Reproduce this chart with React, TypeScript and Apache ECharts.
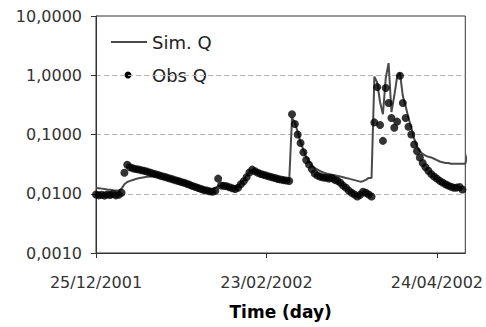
import React, { useEffect, useRef } from "react";
import * as echarts from "echarts";

// Day 0 = 25/12/2001, one value per day
const START_UTC = Date.UTC(2001, 11, 25);
const X_TICKS = [0, 60, 120];
const X_MIN = 0;
const X_MAX = 130;
const Y_MIN = 0.001;
const Y_MAX = 10;
const SERIES_NAMES = ["Sim. Q", "Obs Q"];
const X_TITLE = "Time (day)";

const SIM_Q = [
  0.0125, 0.0124, 0.0122, 0.012, 0.0118, 0.0117, 0.0115, 0.0114, 0.0113, 0.0122,
  0.0145, 0.0158, 0.0165, 0.0171, 0.0177, 0.0182, 0.0186, 0.019, 0.0194, 0.0196,
  0.0198, 0.0197, 0.0195, 0.0192, 0.0188, 0.0184, 0.018, 0.0176, 0.0172, 0.0167,
  0.0162, 0.0157, 0.0152, 0.0147, 0.0142, 0.0137, 0.0133, 0.0129, 0.0125, 0.0122,
  0.012, 0.0118, 0.0125, 0.0135, 0.0136, 0.0134, 0.0132, 0.013, 0.0128, 0.0127,
  0.0135, 0.015, 0.017, 0.02, 0.023, 0.025, 0.0245, 0.0232, 0.022, 0.021,
  0.0203, 0.0197, 0.0192, 0.0187, 0.0182, 0.0178, 0.0174, 0.0168, 0.016, 0.19,
  0.16, 0.11, 0.075, 0.055, 0.042, 0.035, 0.03, 0.027, 0.0255, 0.024,
  0.023, 0.022, 0.0215, 0.0208, 0.0205, 0.02, 0.0195, 0.019, 0.0185, 0.018,
  0.0175, 0.017, 0.0165, 0.016, 0.0163, 0.0172, 0.0185, 0.0185, 0.95, 0.75,
  0.35, 0.22, 0.9, 1.6, 0.24, 0.45, 0.95, 1.1, 0.45, 0.3,
  0.19, 0.13, 0.085, 0.063, 0.052, 0.047, 0.044, 0.042, 0.041, 0.039,
  0.037, 0.035, 0.034, 0.033, 0.033, 0.032, 0.032, 0.032, 0.032, 0.032,
  0.032, 0.049,
];

const OBS_Q = [
  0.0097, 0.0094, 0.0096, 0.0093, 0.0097, 0.0095, 0.0099, 0.0094, 0.0096, 0.0104,
  0.0226, 0.0308, 0.028, 0.0268, 0.0262, 0.0256, 0.025, 0.0243, 0.0236, 0.0228,
  0.022, 0.0213, 0.0206, 0.0199, 0.0193, 0.0187, 0.0181, 0.0175, 0.0169, 0.0164,
  0.0158, 0.0153, 0.0147, 0.0141, 0.0135, 0.013, 0.0125, 0.012, 0.0116, 0.0113,
  0.011, 0.0108, 0.0112, 0.018, 0.0138, 0.0136, 0.0134, 0.0129, 0.0124, 0.012,
  0.0126, 0.0145, 0.0162, 0.019, 0.0228, 0.0255, 0.024, 0.0226, 0.0216, 0.0208,
  0.0202, 0.0196, 0.019, 0.0184, 0.0178, 0.0174, 0.017, 0.0167, 0.0164, 0.22,
  0.15, 0.1, 0.072, 0.05, 0.037, 0.031, 0.0258, 0.022, 0.0202, 0.0194,
  0.0188, 0.0186, 0.018, 0.0186, 0.0172, 0.0166, 0.0153, 0.0137, 0.0126, 0.0113,
  0.0104, 0.0097, 0.009, 0.0096, 0.0108, 0.0104, 0.0097, 0.009, 0.16, 0.63,
  0.145, 0.078, 0.61, 0.34, 0.19, 0.13, 0.165, 0.98, 0.34, 0.19,
  0.135, 0.1, 0.068, 0.052, 0.041, 0.033, 0.028, 0.0245, 0.0215, 0.0195,
  0.018, 0.0165, 0.0155, 0.0145, 0.0137, 0.0131, 0.0126, 0.0127, 0.013, 0.0118,
];

const pad = (n: number) => (n < 10 ? "0" + n : "" + n);
function dayLabel(d: number): string {
  const dt = new Date(START_UTC + Math.round(d) * 86400000);
  return pad(dt.getUTCDate()) + "/" + pad(dt.getUTCMonth() + 1) + "/" + dt.getUTCFullYear();
}

const FONT = "DejaVu Sans";
const AXIS_COLOR = "#333";
const LABEL_COLOR = "#333";
const SIM_COLOR = "#4a4a4a";

export default function App() {
  const ref = useRef<HTMLDivElement>(null);
  useEffect(() => {
    document.body.style.margin = "0";
    const chart = echarts.init(ref.current as HTMLDivElement, null, { renderer: "svg" });
    chart.setOption({
      animation: false,
      backgroundColor: "#fff",
      grid: {
        left: 96,
        top: 16,
        width: 370,
        height: 237,
        show: true,
        borderColor: AXIS_COLOR,
        borderWidth: 1,
        backgroundColor: "transparent",
      },
      xAxis: {
        type: "value",
        min: X_MIN,
        max: X_MAX,
        interval: 60,
        axisLine: { show: true, lineStyle: { color: AXIS_COLOR, width: 1 } },
        axisTick: { show: true, length: 5, customValues: X_TICKS, lineStyle: { color: AXIS_COLOR } },
        axisLabel: {
          customValues: X_TICKS,
          formatter: (v: number) => dayLabel(v),
          margin: 21,
          fontSize: 16,
          fontFamily: FONT,
          color: LABEL_COLOR,
        },
        splitLine: { show: false },
        name: X_TITLE,
        nameLocation: "middle",
        nameGap: 50,
        nameTextStyle: { fontFamily: FONT, fontWeight: "bold", fontSize: 17, color: "#000" },
      },
      yAxis: {
        type: "log",
        logBase: 10,
        min: Y_MIN,
        max: Y_MAX,
        axisLine: { show: true, lineStyle: { color: AXIS_COLOR, width: 1 } },
        axisTick: { show: true, length: 5, lineStyle: { color: AXIS_COLOR } },
        axisLabel: {
          formatter: (v: number) => v.toFixed(4).replace(".", ","),
          margin: 14,
          fontSize: 16,
          fontFamily: FONT,
          color: LABEL_COLOR,
        },
        splitLine: {
          show: true,
          showMinLine: false,
          showMaxLine: false,
          lineStyle: { color: "#b5b5b5", type: [5, 3], width: 1 },
        },
      },
      series: [
        {
          name: SERIES_NAMES[0],
          type: "line",
          data: SIM_Q.map((v, i) => [i, v]),
          symbol: "none",
          clip: false,
          lineStyle: { color: SIM_COLOR, width: 2 },
          z: 2,
        },
        {
          name: SERIES_NAMES[1],
          type: "scatter",
          data: OBS_Q.map((v, i) => [i, v]),
          symbol: "circle",
          symbolSize: 8,
          itemStyle: { color: "#000" },
          z: 3,
        },
      ],
      graphic: [
        {
          type: "line",
          shape: { x1: 111, y1: 42, x2: 147, y2: 42 },
          style: { stroke: SIM_COLOR, lineWidth: 2 },
        },
        {
          type: "text",
          x: 152,
          y: 42,
          style: {
            text: SERIES_NAMES[0],
            font: `18px "${FONT}"`,
            fill: "#222",
            verticalAlign: "middle",
          },
        },
        {
          type: "circle",
          shape: { cx: 128, cy: 75, r: 3.5 },
          style: { fill: "#000" },
        },
        {
          type: "text",
          x: 152,
          y: 75,
          style: {
            text: SERIES_NAMES[1],
            font: `18px "${FONT}"`,
            fill: "#222",
            verticalAlign: "middle",
          },
        },
      ],
    });
    return () => chart.dispose();
  }, []);
  return <div ref={ref} style={{ width: 486, height: 327 }} />;
}
